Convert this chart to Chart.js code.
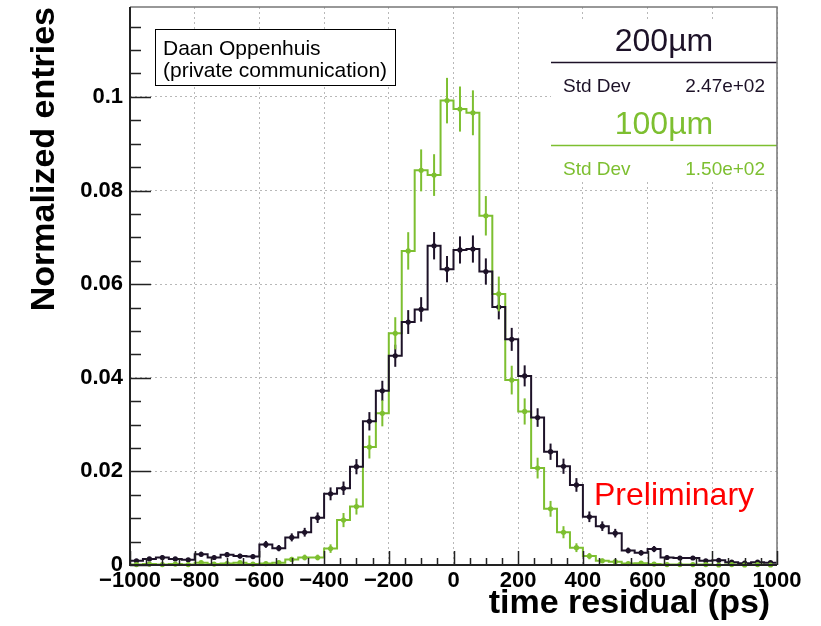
<!DOCTYPE html>
<html>
<head>
<meta charset="utf-8">
<script src="https://cdn.jsdelivr.net/npm/chart.js@4"></script>
<style>
  html, body { margin: 0; padding: 0; background: #fff; }
</style>
</head>
<body>
<canvas id="hist" width="821" height="626"></canvas>
<script>
// bin centres of the time residual histogram (ps), 40 ps bins
const binCenters = [-980, -940, -900, -860, -820, -780, -740, -700, -660, -620,
                    -580, -540, -500, -460, -420, -380, -340, -300, -260, -220,
                    -180, -140, -100, -60, -20, 20, 60, 100, 140, 180,
                    220, 260, 300, 340, 380, 420, 460, 500, 540, 580,
                    620, 660, 700, 740, 780, 820, 860, 900, 940, 980];
const binWidth = 40;

// 200um pitch (black)
const res200 = [0.0009, 0.0013, 0.0016, 0.0013, 0.0011, 0.0023, 0.0016, 0.0022, 0.0019, 0.0018,
                0.0044, 0.0036, 0.0059, 0.0070, 0.0101, 0.0152, 0.0164, 0.0210, 0.0307, 0.0372,
                0.0447, 0.0519, 0.0546, 0.0682, 0.0632, 0.0673, 0.0675, 0.0627, 0.0551, 0.0482,
                0.0404, 0.0315, 0.0242, 0.0211, 0.0171, 0.0103, 0.0083, 0.0068, 0.0031, 0.0026,
                0.0034, 0.0016, 0.0015, 0.0015, 0.0009, 0.0010, 0.0006, 0.0004, 0.0006, 0.0005];
// 100um pitch (green)
const res100 = [0.0001, 0.0002, 0.0001, 0.0002, 0.0001, 0.0005, 0.0002, 0.0003, 0.0005, 0.0002,
                0.0003, 0.0005, 0.0012, 0.0016, 0.0016, 0.0035, 0.0096, 0.0125, 0.0252, 0.0324,
                0.0495, 0.0671, 0.0843, 0.0833, 0.0992, 0.0974, 0.0966, 0.0746, 0.0579, 0.0395,
                0.0328, 0.0207, 0.0120, 0.0070, 0.0037, 0.0019, 0.0009, 0.0007, 0.0003, 0.0004,
                0.0002, 0.0001, 0.0001, 0.0001, 0.0001, 0.0000, 0.0001, 0.0000, 0.0001, 0.0000];

// number of entries, used for the sqrt(N) error bars
const entries200 = 8000;
const entries100 = 4200;

const xTicks = [-1000, -800, -600, -400, -200, 0, 200, 400, 600, 800, 1000];
const yTicks = [0, 0.02, 0.04, 0.06, 0.08, 0.1];

const colBlack = '#1d1228';
const colGreen = '#7dbf30';
const FONT = "'Liberation Sans', Arial, Helvetica, sans-serif";

// histogram outline: left edges + closing right edge, drawn stepped
function stepData(vals) {
  const pts = binCenters.map((c, i) => ({x: c - binWidth / 2, y: vals[i]}));
  pts.push({x: binCenters[binCenters.length - 1] + binWidth / 2, y: vals[vals.length - 1]});
  return pts;
}

const errorBars = {
  id: 'errorBars',
  afterDatasetsDraw(chart) {
    const {ctx, scales: {x, y}} = chart;
    const sets = [[res200, entries200, colBlack], [res100, entries100, colGreen]];
    ctx.save();
    sets.forEach(([vals, n, col]) => {
      ctx.strokeStyle = col;
      ctx.fillStyle = col;
      ctx.lineWidth = 2;
      vals.forEach((v, i) => {
        const err = Math.sqrt(v / n);
        const px = x.getPixelForValue(binCenters[i]);
        ctx.beginPath();
        ctx.moveTo(px, y.getPixelForValue(Math.max(0, v - err)));
        ctx.lineTo(px, y.getPixelForValue(v + err));
        ctx.stroke();
        ctx.beginPath();
        ctx.arc(px, y.getPixelForValue(v), 2.6, 0, Math.PI * 2);
        ctx.fill();
      });
    });
    ctx.restore();
  }
};

const decorations = {
  id: 'decorations',
  afterDraw(chart) {
    const {ctx, chartArea: a, scales: {x, y}} = chart;
    ctx.save();

    // text box, top left
    ctx.fillStyle = '#fff';
    ctx.fillRect(155, 29, 241, 57);
    ctx.strokeStyle = '#000';
    ctx.lineWidth = 1;
    ctx.strokeRect(155.5, 29.5, 240, 56);
    ctx.fillStyle = '#000';
    ctx.font = '21px ' + FONT;
    ctx.textAlign = 'left';
    ctx.textBaseline = 'alphabetic';
    ctx.fillText('Daan Oppenhuis', 163, 55);
    ctx.fillText('(private communication)', 163, 77);

    // stats box, top right
    const bx = a.right - 226;
    ctx.fillStyle = '#fff';
    ctx.fillRect(bx, 20, 226, 162);
    ctx.textAlign = 'center';
    ctx.font = '32px ' + FONT;
    ctx.fillStyle = colBlack;
    ctx.fillText('200\u00b5m', bx + 113, 51);
    ctx.strokeStyle = colBlack;
    ctx.lineWidth = 1.5;
    ctx.beginPath(); ctx.moveTo(bx, 62.5); ctx.lineTo(a.right, 62.5); ctx.stroke();
    ctx.font = '19px ' + FONT;
    ctx.textAlign = 'left';
    ctx.fillText('Std Dev', bx + 12, 92);
    ctx.textAlign = 'right';
    ctx.fillText('2.47e+02', a.right - 12, 92);

    ctx.fillStyle = colGreen;
    ctx.strokeStyle = colGreen;
    ctx.textAlign = 'center';
    ctx.font = '32px ' + FONT;
    ctx.fillText('100\u00b5m', bx + 113, 134);
    ctx.beginPath(); ctx.moveTo(bx, 145.5); ctx.lineTo(a.right, 145.5); ctx.stroke();
    ctx.font = '19px ' + FONT;
    ctx.textAlign = 'left';
    ctx.fillText('Std Dev', bx + 12, 175);
    ctx.textAlign = 'right';
    ctx.fillText('1.50e+02', a.right - 12, 175);

    // Preliminary
    ctx.fillStyle = '#ff0000';
    ctx.textAlign = 'left';
    ctx.font = '32px ' + FONT;
    ctx.fillText('Preliminary', 594, 505);

    // frame
    ctx.strokeStyle = '#777';
    ctx.lineWidth = 1.5;
    ctx.beginPath();
    ctx.moveTo(a.left, a.top); ctx.lineTo(a.right, a.top); ctx.lineTo(a.right, a.bottom);
    ctx.stroke();

    // inward ticks
    ctx.strokeStyle = '#222';
    ctx.lineWidth = 1.5;
    ctx.beginPath();
    for (let v = 0; v <= 0.1191; v += 0.005) {
      const py = Math.round(y.getPixelForValue(v)) + 0.5;
      const major = Math.abs(v / 0.02 - Math.round(v / 0.02)) < 1e-6;
      ctx.moveTo(a.left, py);
      ctx.lineTo(a.left + (major ? 21 : 11), py);
    }
    for (let v = -1000; v <= 1000; v += 50) {
      const px = Math.round(x.getPixelForValue(v)) + 0.5;
      const major = v % 200 === 0;
      ctx.moveTo(px, a.bottom);
      ctx.lineTo(px, a.bottom - (major ? 14 : 7));
    }
    ctx.stroke();

    ctx.strokeStyle = '#222';
    ctx.lineWidth = 2;
    ctx.beginPath();
    ctx.moveTo(a.left, a.top); ctx.lineTo(a.left, a.bottom); ctx.lineTo(a.right, a.bottom);
    ctx.stroke();
    ctx.restore();
  }
};

const ctx = document.getElementById('hist').getContext('2d');
const chart = new Chart(ctx, {
  type: 'line',
  data: {
    datasets: [
      {
        label: '200\u00b5m',
        data: stepData(res200),
        stepped: true,
        borderColor: colBlack,
        borderWidth: 2,
        pointRadius: 0,
        fill: false
      },
      {
        label: '100\u00b5m',
        data: stepData(res100),
        stepped: true,
        borderColor: colGreen,
        borderWidth: 2,
        pointRadius: 0,
        fill: false
      }
    ]
  },
  options: {
    responsive: false,
    animation: false,
    devicePixelRatio: 1,
    layout: { autoPadding: false, padding: { top: 7, right: 44, left: 0, bottom: 0 } },
    plugins: { legend: { display: false }, tooltip: { enabled: false } },
    scales: {
      x: {
        type: 'linear',
        min: -1000,
        max: 1000,
        afterBuildTicks: s => { s.ticks = xTicks.map(v => ({value: v})); },
        afterFit: s => { s.height = 61; s.paddingLeft = 0; s.paddingRight = 0; },
        grid: { color: '#b8b8b8', lineWidth: 1, drawTicks: false },
        border: { display: false, dash: [2, 3] },
        ticks: {
          autoSkip: false, maxRotation: 0, padding: 3, color: '#000',
          font: { family: FONT, size: 22, weight: 'bold' },
          callback: v => (v < 0 ? '\u2212' + Math.abs(v) : String(v))
        },
        title: {
          display: true, text: 'time residual (ps)\u2009', align: 'end', color: '#000',
          font: { family: FONT, size: 34, weight: 'bold' },
          padding: { top: 0, bottom: 2 }
        }
      },
      y: {
        type: 'linear',
        min: 0,
        max: 0.1192,
        afterBuildTicks: s => { s.ticks = yTicks.map(v => ({value: v})); },
        afterFit: s => { s.width = 130; s.paddingTop = 0; s.paddingBottom = 0; },
        grid: { color: '#b8b8b8', lineWidth: 1, drawTicks: false },
        border: { display: false, dash: [2, 3] },
        ticks: {
          padding: 7, color: '#000',
          font: { family: FONT, size: 22, weight: 'bold' },
          callback: v => (v === 0 ? '0' : String(+v.toFixed(2)))
        },
        title: {
          display: true, text: 'Normalized entries', align: 'end', color: '#000',
          font: { family: FONT, size: 34, weight: 'bold' },
          padding: { top: 24, bottom: 0 }
        }
      }
    }
  },
  plugins: [errorBars, decorations]
});
</script>
</body>
</html>
